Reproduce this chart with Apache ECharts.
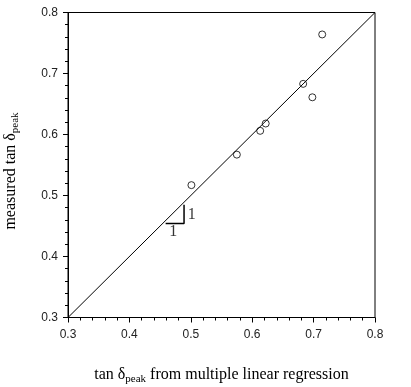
<!DOCTYPE html>
<html>
<head>
<meta charset="utf-8">
<script src="https://cdn.jsdelivr.net/npm/echarts@6/dist/echarts.min.js"></script>
<style>html,body{margin:0;padding:0;background:#fff;}#c{width:411px;height:387px;}</style>
</head>
<body>
<div id="c"></div>
<script>
// Data
var regressionX = [0.501, 0.575, 0.613, 0.622, 0.683, 0.698, 0.714];
var measuredY   = [0.517, 0.567, 0.606, 0.618, 0.683, 0.661, 0.764];
var identityLine = [[0.3, 0.3], [0.8, 0.8]];
var slopeTriangle = [[0.459, 0.454], [0.489, 0.454], [0.489, 0.485]];
var slopeLabels = [[0.5015, 0.469, '1'], [0.4715, 0.441, '1']];
var axisMin = 0.3, axisMax = 0.8, axisStep = 0.1;

var points = regressionX.map(function (x, i) { return [x, measuredY[i]]; });

var chart = echarts.init(document.getElementById('c'), null, {renderer: 'canvas'});
var tickFont = {fontFamily: 'Liberation Sans', fontSize: 12, color: '#222'};
var serif = 'Liberation Serif';
function axisCommon(isX) {
  return {
    type: 'value', min: axisMin, max: axisMax, interval: axisStep,
    axisLine: {show: true, lineStyle: {color: '#000', width: 1}},
    axisTick: {show: true, inside: false, length: 5, lineStyle: {color: '#000'}},
    minorTick: {show: true, splitNumber: 5, length: 3, lineStyle: {color: '#000'}},
    splitLine: {show: false},
    axisLabel: Object.assign({margin: isX ? 11 : 10, formatter: function (v) { return v.toFixed(1); }}, tickFont)
  };
}
var subRich = {sub: {fontFamily: serif, fontSize: 11, color: '#000', verticalAlign: 'bottom', padding: [9, 0, 0, 0]}};
chart.setOption({
  animation: false,
  backgroundColor: '#fff',
  grid: {left: 68, right: 36, top: 12.5, bottom: 69.5, show: true, borderColor: '#000', borderWidth: 1,
    containLabel: false, outerBoundsMode: 'none'},
  xAxis: Object.assign(axisCommon(true), {
    name: 'tan δ{sub|peak} from multiple linear regression',
    nameLocation: 'middle', nameGap: 47,
    nameTextStyle: {fontFamily: serif, fontSize: 16, color: '#000', rich: subRich}
  }),
  yAxis: Object.assign(axisCommon(false), {
    name: 'measured tan δ{sub|peak}',
    nameLocation: 'middle', nameGap: 47,
    nameTextStyle: {fontFamily: serif, fontSize: 16, color: '#000', rich: subRich, padding: [0, 12, 0, 0]}
  }),
  series: [
    {type: 'line', data: identityLine, symbol: 'none', lineStyle: {color: '#000', width: 1}, silent: true},
    {type: 'line', data: slopeTriangle, symbol: 'none', lineStyle: {color: '#000', width: 1.5}, silent: true},
    {type: 'scatter', data: points, symbol: 'circle', symbolSize: 7,
      itemStyle: {color: 'rgba(255,255,255,0)', borderColor: '#000', borderWidth: 1}},
    {type: 'scatter', data: slopeLabels, symbolSize: 0,
      label: {show: true, position: 'inside', formatter: function (p) { return p.data[2]; },
        fontFamily: serif, fontSize: 16, color: '#000'}}
  ]
});
</script>
</body>
</html>
